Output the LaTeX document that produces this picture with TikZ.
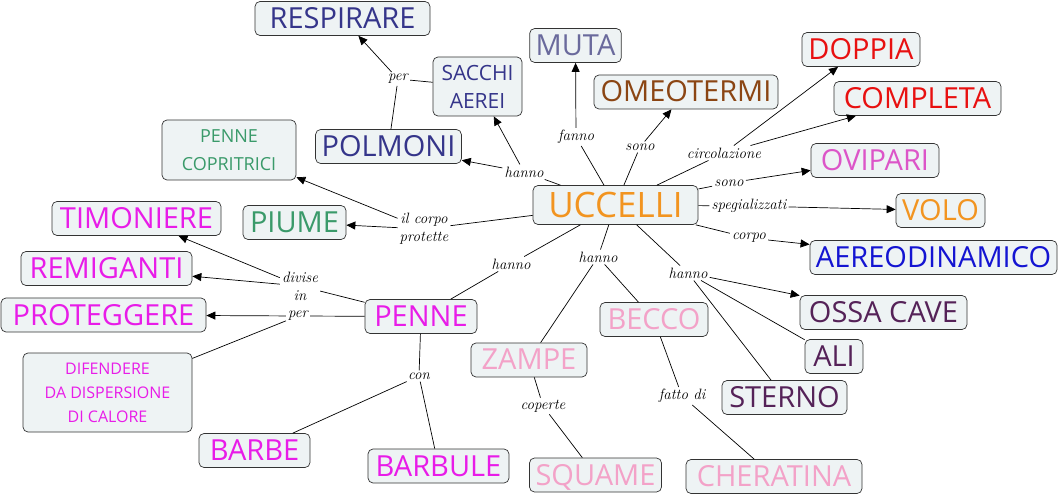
\documentclass[tikz,border=0pt]{standalone}
\usepackage{fontspec}
\newfontfamily\conceptfont{Open Sans}
\usetikzlibrary{arrows.meta,positioning}

\definecolor{boxfill}{HTML}{EEF3F4}
\definecolor{navytext}{HTML}{35358A}
\definecolor{mutatext}{HTML}{6A6A9C}
\definecolor{browntext}{HTML}{8B4513}
\definecolor{redtext}{HTML}{E81010}
\definecolor{orchidtext}{HTML}{DC55C8}
\definecolor{orangetext}{HTML}{F29420}
\definecolor{bluetext}{HTML}{1414D2}
\definecolor{plumtext}{HTML}{552258}
\definecolor{pinktext}{HTML}{F3A2C8}
\definecolor{magentatext}{HTML}{E81CE8}
\definecolor{greentext}{HTML}{3A9A6A}

\tikzset{
  box/.style={draw=black!80,fill=boxfill,rounded corners=5pt,line width=0.7pt},
  concept/.style={box,font=\conceptfont\fontsize{29}{30}\selectfont,
    inner xsep=6pt,inner ysep=7pt,text height=20pt,text depth=0pt},
  bigconcept/.style={box,font=\conceptfont\fontsize{35}{36}\selectfont,
    inner xsep=6pt,inner ysep=7pt,text height=25pt,text depth=0pt},
  multiconcept/.style={box,align=center,inner xsep=6pt,inner ysep=5pt},
  linkword/.style={font=\itshape\fontsize{15}{18}\selectfont,inner sep=2pt,align=center},
  link/.style={line width=0.7pt},
  linkarrow/.style={link,->}
}

\begin{document}
\begin{tikzpicture}[x=1pt,y=-1pt,>={Triangle[length=9pt,width=8pt]}]
  \useasboundingbox (0,0) rectangle (1061,497);

  \node[bigconcept,text=orangetext,minimum width=165pt] (uccelli) at (615.5,205) {UCCELLI};

  \node[concept,text=navytext,minimum width=175pt] (respirare) at (342.5,18.5) {RESPIRARE};
  \node[multiconcept,text=navytext,font=\conceptfont\fontsize{21}{28}\selectfont,
    minimum width=89pt,minimum height=59pt] (sacchi) at (477.5,86.5) {SACCHI\\AEREI};
  \node[concept,text=navytext,minimum width=141pt] (polmoni) at (388.5,146.5) {POLMONI};
  \node[concept,text=mutatext,minimum width=91pt] (muta) at (575.5,45.5) {MUTA};
  \node[concept,text=browntext,minimum width=184pt] (omeotermi) at (686,92) {OMEOTERMI};
  \node[concept,text=redtext,minimum width=118pt] (doppia) at (861,49.5) {DOPPIA};
  \node[concept,text=redtext,minimum width=167pt] (completa) at (917.5,98.5) {COMPLETA};
  \node[concept,text=orchidtext,minimum width=128pt] (ovipari) at (875,160.5) {OVIPARI};
  \node[concept,text=orangetext,minimum width=89pt] (volo) at (940.5,210.5) {VOLO};
  \node[concept,text=bluetext,minimum width=247pt] (aereo) at (933.5,257.5) {AEREODINAMICO};
  \node[concept,text=plumtext,minimum width=167pt] (ossa) at (883.5,312.5) {OSSA CAVE};
  \node[concept,text=plumtext,minimum width=58pt] (ali) at (834,356.5) {ALI};
  \node[concept,text=plumtext,minimum width=125pt] (sterno) at (784.5,397.5) {STERNO};
  \node[concept,text=pinktext,minimum width=108pt] (becco) at (654,319.5) {BECCO};
  \node[concept,text=pinktext,minimum width=176pt] (cheratina) at (774,476.5) {CHERATINA};
  \node[concept,text=pinktext,minimum width=116pt] (zampe) at (529,360) {ZAMPE};
  \node[concept,text=pinktext,minimum width=127pt] (squame) at (595.5,475) {SQUAME};

  \node[concept,text=magentatext,minimum width=112pt] (penne) at (421,316.5) {PENNE};
  \node[concept,text=magentatext,minimum width=141pt] (barbule) at (438.5,466) {BARBULE};
  \node[concept,text=magentatext,minimum width=111pt] (barbe) at (254.5,450.5) {BARBE};
  \node[concept,text=magentatext,minimum width=169pt] (timoniere) at (136.5,218.5) {TIMONIERE};
  \node[concept,text=magentatext,minimum width=171pt] (remiganti) at (106.5,268.5) {REMIGANTI};
  \node[concept,text=magentatext,minimum width=205pt] (proteggere) at (103.5,315) {PROTEGGERE};
  \node[multiconcept,text=magentatext,font=\conceptfont\fontsize{16}{24}\selectfont,
    minimum width=169pt,minimum height=79pt] (difendere) at (107.5,392.5) {DIFENDERE\\DA DISPERSIONE\\DI CALORE};
  \node[concept,text=greentext,minimum width=103pt] (piume) at (294.5,222.5) {PIUME};
  \node[multiconcept,text=greentext,font=\conceptfont\fontsize{18}{28}\selectfont,
    minimum width=134pt,minimum height=60pt] (copritrici) at (229,150) {PENNE\\COPRITRICI};

  \node[linkword] (per1) at (398,79) {per};
  \node[linkword] (hannotop) at (524,172) {hanno};
  \node[linkword] (fanno) at (576,137) {fanno};
  \node[linkword] (sono1) at (640,147) {sono};
  \node[linkword] (circ) at (724,153) {circolazione};
  \node[linkword] (sono2) at (729,183) {sono};
  \node[linkword] (spec) at (749,206) {spegializzati};
  \node[linkword] (corpo) at (749,238) {corpo};
  \node[linkword] (hannoright) at (688,273) {hanno};
  \node[linkword] (hannomid) at (598,257) {hanno};
  \node[linkword] (hannoleft) at (511,264) {hanno};
  \node[linkword] (protette) at (424,229) {il corpo\\protette};
  \node[linkword] (divise) at (300,286) {divise\\in};
  \node[linkword] (per2) at (298,316) {per};
  \node[linkword] (con) at (419,376) {con};
  \node[linkword] (coperte) at (543,406) {coperte};
  \node[linkword] (fatto) at (682,396) {fatto di};

  \draw[link] (sacchi) -- (per1);
  \draw[link] (polmoni) -- (per1);
  \draw[linkarrow] (per1) -- (respirare);

  \draw[link] (uccelli) -- (hannotop);
  \draw[linkarrow] (hannotop) -- (polmoni);
  \draw[linkarrow] (hannotop) -- (sacchi);

  \draw[link] (uccelli) -- (fanno);
  \draw[linkarrow] (fanno) -- (muta);
  \draw[link] (uccelli) -- (sono1);
  \draw[linkarrow] (sono1) -- (omeotermi);
  \draw[link] (uccelli) -- (circ);
  \draw[linkarrow] (circ) -- (doppia);
  \draw[linkarrow] (circ) -- (completa);
  \draw[link] (uccelli) -- (sono2);
  \draw[linkarrow] (sono2) -- (ovipari);
  \draw[link] (uccelli) -- (spec);
  \draw[linkarrow] (spec) -- (volo);
  \draw[link] (uccelli) -- (corpo);
  \draw[linkarrow] (corpo) -- (aereo);

  \draw[link] (uccelli) -- (hannoright);
  \draw[linkarrow] (hannoright) -- (ossa);
  \draw[link] (hannoright) -- (ali);
  \draw[link] (hannoright) -- (sterno);

  \draw[link] (uccelli) -- (hannomid);
  \draw[link] (hannomid) -- (zampe);
  \draw[link] (hannomid) -- (becco);
  \draw[link] (zampe) -- (coperte);
  \draw[link] (coperte) -- (squame);
  \draw[link] (becco) -- (fatto);
  \draw[link] (fatto) -- (cheratina);

  \draw[link] (uccelli) -- (hannoleft);
  \draw[link] (hannoleft) -- (penne);

  \draw[link] (uccelli) -- (protette);
  \draw[linkarrow] (protette) -- (piume);
  \draw[linkarrow] (protette) -- (copritrici);

  \draw[link] (penne) -- (divise);
  \draw[linkarrow] (divise) -- (timoniere);
  \draw[linkarrow] (divise) -- (remiganti);
  \draw[link] (penne) -- (per2);
  \draw[linkarrow] (per2) -- (proteggere);
  \draw[link] (per2) -- (difendere);
  \draw[link] (penne) -- (con);
  \draw[link] (con) -- (barbe);
  \draw[link] (con) -- (barbule);
\end{tikzpicture}
\end{document}
